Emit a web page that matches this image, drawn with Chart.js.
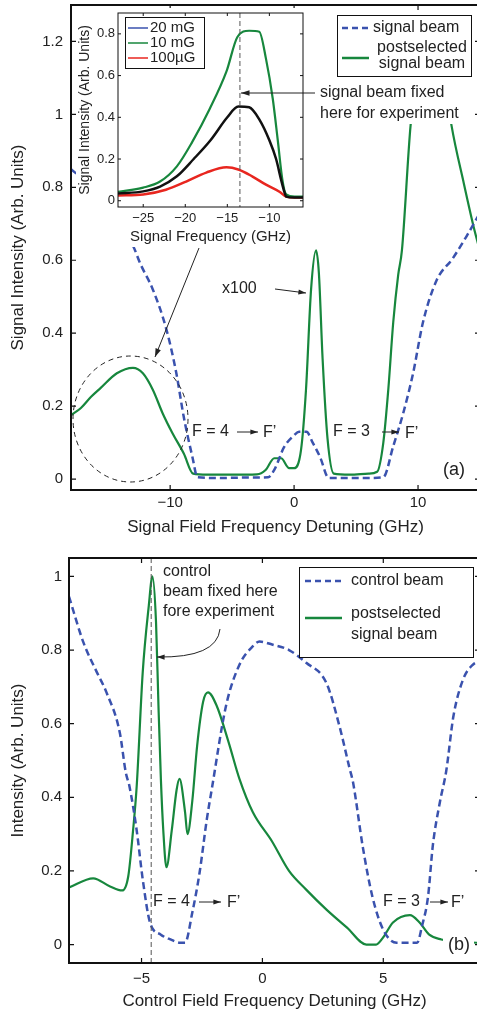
<!DOCTYPE html>
<html>
<head>
<meta charset="utf-8">
<script src="https://cdn.jsdelivr.net/npm/chart.js@4.4.1/dist/chart.umd.min.js"></script>
<style>
  html, body { margin: 0; padding: 0; background: #fff; overflow: hidden; width: 477px; height: 1009px; }
  canvas { position: absolute; left: 0; }
  #chart-a { top: 0; z-index: 1; }
  #inset-a { top: 0; z-index: 2; }
  #chart-b { top: 540px; z-index: 1; }
</style>
</head>
<body>
<canvas id="chart-a" width="490" height="540"></canvas>
<canvas id="inset-a" width="490" height="260"></canvas>
<canvas id="chart-b" width="490" height="472"></canvas>
<script>
'use strict';

// Panel (a): signal field detuning scan
var aSignalX = [-18, -17, -16, -15, -14, -13, -12.4, -11.4, -10.3, -9.5, -8.9, -8.2, -7.8, -6, -4, -2.1, -1.6, -0.8, 0, 0.4, 1.0, 1.5, 2.1, 2.8, 4, 6, 7.2, 8.0, 8.8, 9.6, 10.4, 11.5, 12.8, 13.9, 15];
var aSignalY = [0.85, 0.82, 0.78, 0.74, 0.69, 0.64, 0.59, 0.52, 0.41, 0.29, 0.17, 0.06, 0.005, 0.003, 0.004, 0.005, 0.025, 0.088, 0.12, 0.13, 0.13, 0.10, 0.06, 0.003, 0.003, 0.003, 0.005, 0.09, 0.18, 0.29, 0.43, 0.545, 0.605, 0.665, 0.73];
var aPostX = [-18, -17.2, -16.4, -15.6, -14.3, -13, -12.2, -11.4, -10.6, -9.8, -8.9, -8.15, -7, -5, -3, -2.3, -1.6, -1.05, -0.4, 0, 0.56, 0.96, 1.37, 1.77, 2.0, 2.3, 2.7, 3.2, 4.5, 6, 6.7, 7.2, 7.6, 8.0, 8.4, 8.7, 9.4, 10.2, 11, 11.8, 12.7, 13.7, 14.5, 15];
var aPostY = [0.175, 0.195, 0.225, 0.25, 0.29, 0.305, 0.29, 0.245, 0.18, 0.125, 0.07, 0.015, 0.012, 0.012, 0.013, 0.025, 0.057, 0.057, 0.03, 0.03, 0.08, 0.245, 0.52, 0.627, 0.565, 0.33, 0.11, 0.015, 0.012, 0.015, 0.02, 0.1, 0.245, 0.43, 0.56, 0.627, 0.97, 1.17, 1.24, 1.18, 0.97, 0.81, 0.69, 0.625];
var aTicksX = [-10, 0, 10];
var aTicksY = [0, 0.2, 0.4, 0.6, 0.8, 1, 1.2];

// Inset: signal intensity vs signal frequency for three fields
var in20X = [-28, -25, -23, -21, -19, -17, -15, -13.7, -12.4, -11.2, -10, -9.2, -8.6, -8.2, -8.0, -7, -6];
var in20Y = [0.035, 0.045, 0.068, 0.117, 0.2, 0.29, 0.40, 0.452, 0.448, 0.39, 0.29, 0.2, 0.1, 0.04, 0.02, 0.015, 0.015];
var in10X = [-28, -25, -23, -21, -19.2, -17.1, -15.1, -13.8, -12.4, -11.2, -10.4, -9.6, -9.0, -8.45, -8.0, -7, -6];
var in10Y = [0.043, 0.063, 0.092, 0.165, 0.28, 0.44, 0.62, 0.785, 0.815, 0.81, 0.68, 0.49, 0.29, 0.10, 0.03, 0.02, 0.02];
var in100X = [-28, -25, -22.3, -19.9, -17.5, -15.1, -13.7, -12.0, -10.4, -8.8, -8.0, -7, -6];
var in100Y = [0.025, 0.03, 0.053, 0.092, 0.135, 0.16, 0.15, 0.116, 0.077, 0.043, 0.02, 0.015, 0.015];
var insetTicksX = [-25, -20, -15, -10];
var insetTicksY = [0, 0.2, 0.4, 0.6, 0.8];
var insetFixedFreq = -13.5;

// Panel (b): control field detuning scan
var bCtrlX = [-8, -7.4, -6.85, -6.45, -5.9, -5.65, -5.5, -5.2, -4.95, -4.65, -4.2, -3.8, -3.4, -3.2, -2.9, -2.6, -2.3, -2.1, -1.5, -0.95, -0.4, -0.12, 0.4, 1.1, 1.8, 2.65, 3.2, 3.6, 3.75, 4.15, 4.55, 5.0, 5.55, 6.0, 6.4, 6.6, 6.85, 7.05, 7.35, 7.6, 7.9, 8.3, 8.7, 9];
var bCtrlY = [0.945, 0.82, 0.74, 0.685, 0.576, 0.467, 0.43, 0.31, 0.177, 0.06, 0.027, 0.014, 0.005, 0.005, 0.087, 0.195, 0.34, 0.42, 0.65, 0.76, 0.81, 0.823, 0.815, 0.80, 0.766, 0.71, 0.59, 0.48, 0.44, 0.266, 0.13, 0.04, 0.005, 0.005, 0.005, 0.05, 0.13, 0.27, 0.39, 0.47, 0.62, 0.72, 0.76, 0.77];
var bPostX = [-8, -7.0, -6.3, -5.8, -5.55, -5.35, -5.2, -4.95, -4.7, -4.55, -4.4, -4.3, -4.2, -4.1, -3.97, -3.75, -3.55, -3.43, -3.2, -3.1, -2.9, -2.7, -2.45, -2.25, -1.9, -1.4, -0.95, -0.4, 0.4, 1.1, 1.8, 2.65, 3.5, 4.3, 4.7, 5.0, 5.4, 6.1, 6.5, 6.9, 7.4, 8, 9];
var bPostY = [0.155, 0.18, 0.158, 0.147, 0.185, 0.31, 0.43, 0.74, 0.92, 1.0, 0.875, 0.65, 0.45, 0.31, 0.21, 0.31, 0.42, 0.45, 0.36, 0.30, 0.39, 0.54, 0.66, 0.685, 0.65, 0.55, 0.45, 0.36, 0.28, 0.20, 0.15, 0.095, 0.046, 0.0, 0.0, 0.02, 0.06, 0.08, 0.06, 0.027, 0.014, 0.008, 0.005];
var bTicksX = [-5, 0, 5];
var bTicksY = [0, 0.2, 0.4, 0.6, 0.8, 1];
var bFixedFreq = -4.6;

var FONT = "'Liberation Sans', Arial, Helvetica, sans-serif";
var BLUE = '#3a52ae';
var GREEN = '#17873d';
var RED = '#e8261f';
var INK = '#222';
Chart.defaults.font.family = FONT;
Chart.defaults.color = INK;

function pts(xs, ys) {
  return xs.map(function (x, i) { return {x: x, y: ys[i]}; });
}

function fmtTick(v) {
  return v < 0 ? '\u2212' + Math.abs(v) : String(v);
}

function lineSet(label, xs, ys, color, width, dash) {
  return {
    label: label,
    data: pts(xs, ys),
    borderColor: color,
    backgroundColor: color,
    borderWidth: width,
    borderDash: dash || [],
    pointRadius: 0,
    fill: false,
    cubicInterpolationMode: 'monotone'
  };
}

function axis(min, max, tickVals, size, tickFont, tickPad, title, titleFont, titlePad) {
  return {
    type: 'linear',
    min: min,
    max: max,
    grid: {display: false, drawTicks: false},
    border: {display: false},
    afterBuildTicks: function (s) {
      s.ticks = tickVals.map(function (v) { return {value: v}; });
    },
    afterFit: function (s) {
      if (s.isHorizontal()) s.height = size; else s.width = size;
      // keep the plot box where it is set, label overflow is not needed here
      s.paddingTop = 0; s.paddingBottom = 0; s.paddingLeft = 0; s.paddingRight = 0;
    },
    ticks: {font: {size: tickFont}, color: INK, padding: tickPad, autoSkip: false, maxRotation: 0, callback: fmtTick},
    title: {display: true, text: title, font: {size: titleFont}, color: INK, padding: titlePad}
  };
}

function baseOptions(pad, xAxis, yAxis, extra) {
  var plugins = {legend: {display: false}, tooltip: {enabled: false}};
  Object.keys(extra || {}).forEach(function (k) { plugins[k] = extra[k]; });
  return {
    responsive: false,
    animation: false,
    devicePixelRatio: 1,
    events: [],
    layout: {padding: pad},
    scales: {x: xAxis, y: yAxis},
    plugins: plugins
  };
}

function arrow(ctx, x1, y1, x2, y2, head) {
  ctx.beginPath();
  ctx.moveTo(x1, y1);
  ctx.lineTo(x2, y2);
  ctx.stroke();
  arrowHead(ctx, Math.atan2(y2 - y1, x2 - x1), x2, y2, head);
}

function arrowHead(ctx, ang, x, y, head) {
  ctx.beginPath();
  ctx.moveTo(x, y);
  ctx.lineTo(x - head * Math.cos(ang - 0.32), y - head * Math.sin(ang - 0.32));
  ctx.lineTo(x - head * Math.cos(ang + 0.32), y - head * Math.sin(ang + 0.32));
  ctx.closePath();
  ctx.fill();
}

// box with inward ticks on all four sides
var framePlugin = {
  id: 'frame',
  afterDraw: function (chart, args, o) {
    var ctx = chart.ctx, a = chart.chartArea, xs = chart.scales.x, ys = chart.scales.y;
    ctx.save();
    ctx.strokeStyle = '#111';
    ctx.lineWidth = o.tickWidth;
    ctx.beginPath();
    xs.ticks.forEach(function (t) {
      var px = xs.getPixelForValue(t.value);
      ctx.moveTo(px, a.bottom); ctx.lineTo(px, a.bottom - o.tick);
      ctx.moveTo(px, a.top); ctx.lineTo(px, a.top + o.tick);
    });
    ys.ticks.forEach(function (t) {
      var py = ys.getPixelForValue(t.value);
      ctx.moveTo(a.left, py); ctx.lineTo(a.left + o.tick, py);
      ctx.moveTo(a.right, py); ctx.lineTo(a.right - o.tick, py);
    });
    ctx.stroke();
    ctx.lineWidth = o.border;
    ctx.strokeRect(a.left, a.top, a.right - a.left, a.bottom - a.top);
    ctx.restore();
  }
};

function legendLine(ctx, x1, x2, y, color, dash, width) {
  ctx.save();
  ctx.strokeStyle = color;
  ctx.lineWidth = width;
  ctx.setLineDash(dash);
  ctx.beginPath(); ctx.moveTo(x1, y); ctx.lineTo(x2, y); ctx.stroke();
  ctx.restore();
}

function legendBox(ctx, x, y, w, h) {
  ctx.fillStyle = '#fff';
  ctx.fillRect(x, y, w, h);
  ctx.strokeStyle = '#111';
  ctx.lineWidth = 1;
  ctx.strokeRect(x + 0.5, y + 0.5, w, h);
}

// annotations of panel (a)
var annotA = {
  id: 'annotA',
  afterDraw: function (chart) {
    var ctx = chart.ctx;
    ctx.save();
    ctx.strokeStyle = INK; ctx.fillStyle = INK; ctx.lineWidth = 1;
    ctx.setLineDash([5, 4]);
    ctx.beginPath(); ctx.ellipse(130.5, 419, 57.5, 63, 0, 0, Math.PI * 2); ctx.stroke();
    ctx.setLineDash([]);
    arrow(ctx, 199, 248, 155, 357, 9);

    ctx.font = '16px ' + FONT;
    ctx.textBaseline = 'middle';
    ctx.textAlign = 'left';
    ctx.fillText('x100', 222, 289);
    arrow(ctx, 275, 289, 306, 293, 8);
    ctx.fillText('F = 4', 192, 432);
    arrow(ctx, 237, 432, 258, 432, 8);
    ctx.fillText('F\u2019', 263, 433);
    ctx.fillText('F = 3', 333, 432);
    arrow(ctx, 382, 432, 399, 432, 8);
    ctx.fillText('F\u2019', 405, 434);
    ctx.font = '18px ' + FONT;
    ctx.fillText('(a)', 443, 470);

    // legend
    legendBox(ctx, 337, 15, 134, 61);
    legendLine(ctx, 342, 369, 28, BLUE, [6, 4], 2.5);
    legendLine(ctx, 342, 369, 58, GREEN, [], 2.5);
    ctx.fillStyle = INK;
    ctx.font = '16px ' + FONT;
    ctx.fillText('signal beam', 373, 28);
    ctx.textAlign = 'center';
    ctx.fillText('postselected', 422, 48);
    ctx.fillText('signal beam', 422, 64);
    ctx.restore();
  }
};

// inset background, marker line, legend and its pointer
var annotInset = {
  id: 'annotInset',
  beforeDraw: function (chart) {
    var ctx = chart.ctx, a = chart.chartArea;
    ctx.save();
    ctx.fillStyle = '#fff';
    ctx.fillRect(a.left - 42, a.top - 5, a.right - a.left + 45, a.bottom - a.top + 45);
    ctx.restore();
  },
  afterDatasetsDraw: function (chart) {
    var ctx = chart.ctx, a = chart.chartArea;
    var px = chart.scales.x.getPixelForValue(insetFixedFreq);
    ctx.save();
    ctx.strokeStyle = '#555'; ctx.lineWidth = 1; ctx.setLineDash([5, 3]);
    ctx.beginPath(); ctx.moveTo(px, a.top); ctx.lineTo(px, a.bottom); ctx.stroke();
    ctx.restore();
  },
  afterDraw: function (chart) {
    var ctx = chart.ctx;
    var px = chart.scales.x.getPixelForValue(insetFixedFreq);
    ctx.save();
    legendBox(ctx, 125, 17, 79, 51);
    legendLine(ctx, 128, 148, 28, BLUE, [], 1.5);
    legendLine(ctx, 128, 148, 43, GREEN, [], 1.5);
    legendLine(ctx, 128, 148, 58, RED, [], 1.5);
    ctx.fillStyle = INK;
    ctx.font = '15px ' + FONT;
    ctx.textBaseline = 'middle';
    ctx.fillText('20 mG', 150, 28);
    ctx.fillText('10 mG', 150, 43);
    ctx.fillText('100\u00b5G', 150, 58);

    ctx.fillStyle = '#fff';
    ctx.fillRect(316, 77, 152, 47);
    ctx.fillStyle = INK; ctx.strokeStyle = INK; ctx.lineWidth = 1;
    ctx.font = '16px ' + FONT;
    ctx.fillText('signal beam fixed', 320, 93);
    ctx.fillText('here for experiment', 320, 114);
    arrow(ctx, 315, 93, px + 1, 93, 9);
    ctx.restore();
  }
};

// annotations of panel (b)
var annotB = {
  id: 'annotB',
  afterDatasetsDraw: function (chart) {
    var ctx = chart.ctx, a = chart.chartArea;
    var px = chart.scales.x.getPixelForValue(bFixedFreq);
    ctx.save();
    ctx.strokeStyle = '#555'; ctx.lineWidth = 1; ctx.setLineDash([5, 3]);
    ctx.beginPath(); ctx.moveTo(px, a.top); ctx.lineTo(px, a.bottom); ctx.stroke();
    ctx.restore();
  },
  afterDraw: function (chart) {
    var ctx = chart.ctx;
    ctx.save();
    ctx.fillStyle = INK; ctx.strokeStyle = INK; ctx.lineWidth = 1;
    ctx.font = '16px ' + FONT;
    ctx.textBaseline = 'middle';
    ctx.fillText('control', 163, 32);
    ctx.fillText('beam fixed here', 163, 52);
    ctx.fillText('fore experiment', 163, 72);
    ctx.beginPath();
    ctx.moveTo(220, 89);
    ctx.quadraticCurveTo(217, 118, 157, 117);
    ctx.stroke();
    arrowHead(ctx, Math.atan2(117 - 118, 157 - 217), 157, 117, 8);

    ctx.fillText('F = 4', 153, 362);
    arrow(ctx, 199, 362, 221, 362, 8);
    ctx.fillText('F\u2019', 227, 363);
    ctx.fillText('F = 3', 383, 362);
    arrow(ctx, 430, 362, 448, 362, 8);
    ctx.fillText('F\u2019', 451, 363);

    ctx.fillStyle = '#fff';
    ctx.fillRect(443, 395, 31, 20);
    ctx.fillStyle = INK;
    ctx.font = '18px ' + FONT;
    ctx.fillText('(b)', 448, 405);

    legendBox(ctx, 299, 27, 174, 90);
    legendLine(ctx, 305, 342, 41, BLUE, [6, 4], 2.5);
    legendLine(ctx, 305, 342, 78, GREEN, [], 2.5);
    ctx.fillStyle = INK;
    ctx.font = '16px ' + FONT;
    ctx.fillText('control beam', 351, 41);
    ctx.fillText('postselected', 351, 74);
    ctx.fillText('signal beam', 351, 95);
    ctx.restore();
  }
};

// Panel (a) main chart
new Chart(document.getElementById('chart-a'), {
  type: 'line',
  data: {
    datasets: [
      lineSet('signal beam', aSignalX, aSignalY, BLUE, 2.5, [7, 4]),
      lineSet('postselected signal beam', aPostX, aPostY, GREEN, 2.2)
    ]
  },
  options: baseOptions(
    {left: 0, top: 5, right: 10, bottom: 0},
    axis(-18, 15, aTicksX, 50, 15, 4, 'Signal Field Frequency Detuning (GHz)', 17, {top: 0, bottom: 2}),
    axis(-0.03, 1.3, aTicksY, 71, 15, 8, 'Signal Intensity (Arb. Units)', 17, {top: 8, bottom: 0}),
    {frame: {border: 2, tick: 5, tickWidth: 1.2}}
  ),
  plugins: [framePlugin, annotA]
});

// Inset of panel (a)
new Chart(document.getElementById('inset-a'), {
  type: 'line',
  data: {
    datasets: [
      lineSet('20 mG', in20X, in20Y, '#111', 2.5),
      lineSet('10 mG', in10X, in10Y, GREEN, 2.2),
      lineSet('100\u00b5G', in100X, in100Y, RED, 2.5)
    ]
  },
  options: baseOptions(
    {left: 76, top: 13, right: 187, bottom: 0},
    axis(-28, -6, insetTicksX, 53, 13, 4, 'Signal Frequency (GHz)', 15, {top: 0, bottom: 14}),
    axis(-0.03, 0.9, insetTicksY, 42, 13, 3, 'Signal Intensity (Arb. Units)', 14, {top: 1, bottom: 0}),
    {frame: {border: 1, tick: 3, tickWidth: 1}}
  ),
  plugins: [annotInset, framePlugin]
});

// Panel (b)
new Chart(document.getElementById('chart-b'), {
  type: 'line',
  data: {
    datasets: [
      lineSet('control beam', bCtrlX, bCtrlY, BLUE, 2.5, [7, 4]),
      lineSet('postselected signal beam', bPostX, bPostY, GREEN, 2.2)
    ]
  },
  options: baseOptions(
    {left: 0, top: 18, right: 10, bottom: 0},
    axis(-8, 9, bTicksX, 49, 15, 7, 'Control Field Frequency Detuning (GHz)', 17, {top: 0, bottom: 0}),
    axis(-0.05, 1.05, bTicksY, 69, 15, 7, 'Intensity (Arb. Units)', 17, {top: 8, bottom: 0}),
    {frame: {border: 2, tick: 5, tickWidth: 1.2}}
  ),
  plugins: [framePlugin, annotB]
});
</script>
</body>
</html>
